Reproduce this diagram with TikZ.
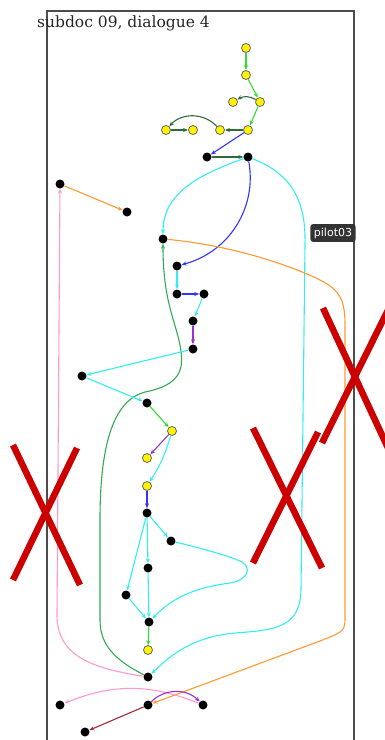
\documentclass[tikz,border=0pt]{standalone}
\usepackage{fontspec}
\newfontfamily\titlefont{DejaVu Serif}
\newfontfamily\tipfont{DejaVu Sans}
\usetikzlibrary{arrows.meta}

\definecolor{lgreen}{HTML}{33DD33}
\definecolor{dgreen}{HTML}{2F6B3C}
\definecolor{sgreen}{HTML}{33AA55}
\definecolor{eblue}{HTML}{3333FF}
\definecolor{ecyan}{HTML}{33EEEE}
\definecolor{eorange}{HTML}{FF9933}
\definecolor{epink}{HTML}{FF99CC}
\definecolor{epurple}{HTML}{9933CC}
\definecolor{ered}{HTML}{A0303F}
\definecolor{xred}{HTML}{CC0000}

\begin{document}
\begin{tikzpicture}[x=1pt,y=-1pt,
    >={Stealth[length=5pt,width=4pt]},
    bnode/.style={circle,fill=black,inner sep=0pt,minimum size=9pt},
    ynode/.style={circle,fill=yellow,draw=black!60,line width=0.8pt,inner sep=0pt,minimum size=9pt},
    edge/.style={->,line width=1.1pt},
    cross/.style={line width=6.5pt,draw=xred},
    tip/.style={fill=black!80,text=white,rounded corners=2.5pt,inner xsep=3.5pt,inner ysep=3.5pt,
      font=\tipfont\fontsize{11}{12}\selectfont}]
  \useasboundingbox (0,0) rectangle (385,740);

  % frame and title
  \draw[black!70,line width=1.2pt] (47,745) -- (47,11) -- (354,11) -- (354,745);
  \node[anchor=base west,inner sep=0pt,text=black!85,
    font=\titlefont\fontsize{15.5}{17}\selectfont] (title) at (37,27) {subdoc 09, dialogue 4};

  % nodes
  \foreach \n/\x/\y in {y1/246/48, y2/246/75, y3/260/102, y4/233/102,
      y5/248/130, y6/220/130, y7/193/130, y8/166/130,
      y9/172/431, y10/147/458, y11/147/486, y12/148/650}
    \node[ynode] (\n) at (\x,\y) {};
  \foreach \n/\x/\y in {b1/207/157, b2/248/157, b3/60/184, b4/127/212,
      b5/163/239, b6/177/266, b7/177/294, b8/204/294, b9/193/321,
      b10/193/349, b11/82/376, b12/147/403, b13/147/513, b14/171/541,
      b15/148/568, b16/126/595, b17/149/622, b18/148/677,
      b19/60/705, b20/148/705, b21/203/705, b22/85/732}
    \node[bnode] (\n) at (\x,\y) {};

  % top chain
  \draw[edge,lgreen] (y1) -- (y2);
  \draw[edge,lgreen] (y2) -- (y3);
  \draw[edge,lgreen] (y3) -- (y5);
  \draw[edge,dgreen] (y3) to[bend right=30] (y4);
  \draw[edge,dgreen] (y5) -- (y6);
  \draw[edge,dgreen] (y6) to[bend right=48] (y8);
  \draw[edge,dgreen] (y8) -- (y7);
  \draw[edge,eblue] (y5) -- (b1);
  \draw[edge,dgreen] (b1) -- (b2);

  % long curves
  \draw[edge,ecyan] (b2) to[out=200,in=90] (b5);
  \draw[edge,eblue] (b2) to[out=-80,in=15] (b6);
  \draw[edge,ecyan] (b2) .. controls (295,175) and (306,205) .. (305,245)
    -- (301,590) .. controls (300,628) and (275,630) .. (235,633)
    .. controls (190,637) and (168,658) .. (b18);
  \draw[edge,eorange] (b5) .. controls (230,245) and (290,265) .. (320,280)
    .. controls (340,290) and (345,300) .. (345,325) -- (345,620)
    .. controls (345,632) and (340,633) .. (320,641) -- (b20);
  \draw[edge,epink] (b18) .. controls (90,668) and (57,655) .. (57,615) -- (b3);
  \draw[edge,sgreen] (b18) .. controls (115,660) and (100,645) .. (100,620)
    -- (100,520) .. controls (100,440) and (115,400) .. (145,392)
    .. controls (180,385) and (185,370) .. (180,345)
    .. controls (175,320) and (163,300) .. (b5);
  \draw[edge,eorange] (b3) -- (b4);

  % middle chain
  \draw[edge,ecyan] (b6) -- (b7);
  \draw[edge,eblue] (b7) -- (b8);
  \draw[edge,ecyan] (b8) -- (b9);
  \draw[edge,epurple] (b9) -- (b10);
  \draw[edge,ecyan] (b10) -- (b11);
  \draw[edge,ecyan] (b11) -- (b12);
  \draw[edge,lgreen] (b12) -- (y9);
  \draw[edge,epurple] (y9) -- (y10);
  \draw[edge,ecyan] (y9) to[bend left=8] (y11);
  \draw[edge,eblue] (y11) -- (b13);
  \draw[edge,ecyan] (b13) -- (b14);
  \draw[edge,ecyan] (b13) -- (b15);
  \draw[edge,ecyan] (b13) -- (b16);
  \draw[edge,ecyan] (b15) -- (b17);
  \draw[edge,ecyan] (b16) -- (b17);
  \draw[edge,ecyan] (b14) .. controls (200,548) and (230,556) .. (242,562)
    .. controls (252,568) and (248,580) .. (230,583)
    .. controls (200,587) and (175,595) .. (b17);
  \draw[edge,lgreen] (b17) -- (y12);

  % bottom
  \draw[edge,epink] (b21) to[bend right=22] (b19);
  \draw[edge,epurple] (b20) to[bend left=45] (b21);
  \draw[edge,ered] (b20) -- (b22);

  % tooltip
  \node[tip] (pilot) at (333,233) {pilot03};

  % crosses
  \draw[cross] (13,445) -- (80,585);
  \draw[cross] (77,448) -- (13,580);
  \draw[cross] (253,428) -- (322,568);
  \draw[cross] (318,432) -- (253,563);
  \draw[cross] (323,308) -- (388,448);
  \draw[cross] (322,443) -- (388,310);
\end{tikzpicture}
\end{document}
